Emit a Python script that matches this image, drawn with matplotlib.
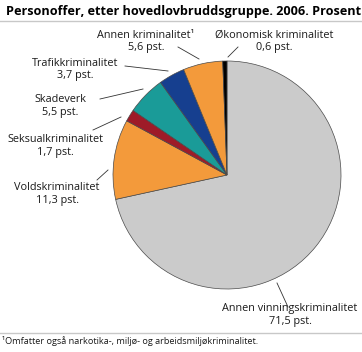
import matplotlib.pyplot as plt

# data, clockwise from twelve o'clock
categories = ['Annen vinningskriminalitet', 'Voldskriminalitet', 'Seksualkriminalitet',
              'Skadeverk', 'Trafikkriminalitet', 'Annen kriminalitet\u00b9', 'Økonomisk kriminalitet']
values = [71.5, 11.3, 1.7, 5.5, 3.7, 5.6, 0.6]
value_labels = ['71,5 pst.', '11,3 pst.', '1,7 pst.', '5,5 pst.', '3,7 pst.', '5,6 pst.', '0,6 pst.']
colors = ['#cbcbcb', '#f39a3b', '#9e1b28', '#1a9b98', '#163f8f', '#f39a3b', '#000000']

W, H = 362, 352
plt.rcParams['font.family'] = ['Open Sans', 'DejaVu Sans']

fig = plt.figure(figsize=(W / 100, H / 100), dpi=100)
ax = fig.add_axes([0, 0, 1, 1])

cx, cy, r = 227, H - 175, 114
ax.pie(values, colors=colors, startangle=90, counterclock=False,
       center=(cx, cy), radius=r,
       wedgeprops=dict(edgecolor='#4a4a4a', linewidth=0.5))

ax.set_xlim(0, W)
ax.set_ylim(0, H)
ax.set_aspect('equal')
ax.axis('off')

# label positions (pixels from top-left) and leader lines
label_pos = [(290, 309), (57, 188), (55, 140), (60, 100), (75, 63), (146, 35), (274, 35)]
leaders = [((277, 283), (288, 307)), ((97, 180), (108, 170)), ((93, 130), (121, 117)),
           ((100, 99), (143, 89)), ((125, 66), (168, 71)), ((178, 47), (199, 59)),
           ((238, 47), (228, 57))]

for name, val, (x, y), (p0, p1) in zip(categories, value_labels, label_pos, leaders):
    ax.text(x, H - y, name, ha='center', va='center', fontsize=7.8, color='#1a1a1a')
    ax.text(x, H - y - 12.5, val, ha='center', va='center', fontsize=7.8, color='#1a1a1a')
    ax.plot([p0[0], p1[0]], [H - p0[1], H - p1[1]], color='#333333', lw=0.6)

# title and rules
ax.text(6, H - 11, 'Personoffer, etter hovedlovbruddsgruppe. 2006. Prosent',
        ha='left', va='center', fontsize=9.1, fontweight='bold', color='#000000')
ax.plot([0, W], [H - 21, H - 21], color='#c8c8c8', lw=1)
ax.plot([0, W], [H - 333, H - 333], color='#c8c8c8', lw=1)
ax.text(2, H - 341, '\u00b9Omfatter også narkotika-, miljø- og arbeidsmiljøkriminalitet.',
        ha='left', va='center', fontsize=6.6, color='#1a1a1a')

fig.savefig('out.png', dpi=100)
